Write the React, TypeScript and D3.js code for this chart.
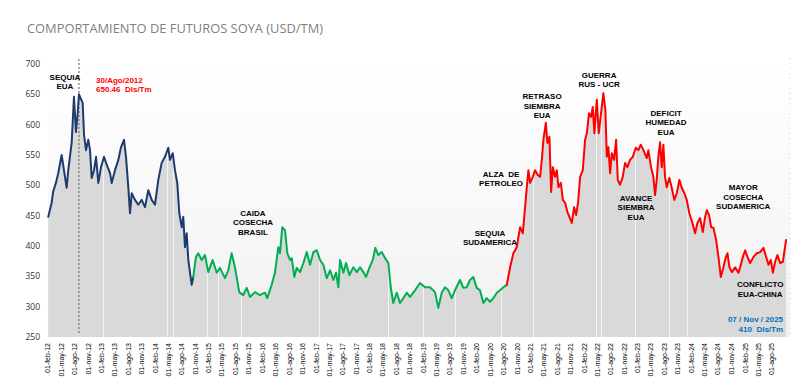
import React from "react";
import * as d3 from "d3";

// ---------- DATA ----------
const TITLE = "COMPORTAMIENTO DE FUTUROS SOYA (USD/TM)";
const MONTHS_ES = ["ene", "feb", "mar", "abr", "may", "jun", "jul", "ago", "sep", "oct", "nov", "dic"];
const Y_TICKS = [250, 300, 350, 400, 450, 500, 550, 600, 650, 700];
const START = "2012-02-01";
const END = "2025-11-07";
const LAST_TICK = "2025-08-01";
const PEAK_YEAR = 2012.661; // 30/Ago/2012

// [decimal year, USD/TM]
const periodBlue: [number, number][] = [
  [2012.089, 448], [2012.152, 471], [2012.182, 490], [2012.232, 504], [2012.275, 520], [2012.339, 550],
  [2012.382, 525], [2012.432, 496], [2012.462, 525], [2012.525, 570], [2012.568, 646], [2012.605, 588],
  [2012.637, 619], [2012.661, 650], [2012.73, 636], [2012.755, 583], [2012.792, 558], [2012.835, 575],
  [2012.867, 558], [2012.898, 512], [2012.941, 525], [2012.979, 547], [2013.021, 504], [2013.072, 530],
  [2013.128, 547], [2013.178, 534], [2013.24, 520], [2013.271, 504], [2013.333, 525], [2013.395, 542],
  [2013.445, 563], [2013.501, 575], [2013.538, 547], [2013.581, 497], [2013.613, 454], [2013.645, 487],
  [2013.706, 476], [2013.768, 468], [2013.831, 476], [2013.893, 464], [2013.954, 492], [2014.018, 476],
  [2014.079, 468], [2014.141, 509], [2014.204, 537], [2014.266, 547], [2014.327, 562], [2014.359, 542],
  [2014.41, 553], [2014.452, 525], [2014.495, 504], [2014.533, 454], [2014.578, 431], [2014.607, 448],
  [2014.639, 398], [2014.671, 421], [2014.701, 377], [2014.764, 336], [2014.794, 349],
];

const periodGreen: [number, number][] = [
  [2014.794, 349], [2014.844, 382], [2014.887, 388], [2014.951, 377], [2015.012, 385], [2015.074, 357],
  [2015.156, 377], [2015.231, 356], [2015.292, 364], [2015.385, 347], [2015.447, 360], [2015.51, 388],
  [2015.572, 365], [2015.652, 324], [2015.727, 319], [2015.79, 331], [2015.852, 316], [2015.945, 324],
  [2016.038, 319], [2016.131, 323], [2016.174, 314], [2016.256, 336], [2016.318, 356], [2016.38, 398],
  [2016.411, 388], [2016.454, 431], [2016.505, 426], [2016.548, 388], [2016.598, 377], [2016.63, 380],
  [2016.678, 349], [2016.723, 364], [2016.785, 357], [2016.846, 372], [2016.91, 390], [2016.971, 369],
  [2017.033, 390], [2017.096, 393], [2017.158, 377], [2017.219, 369], [2017.283, 347], [2017.344, 360],
  [2017.406, 344], [2017.456, 356], [2017.499, 332], [2017.531, 377], [2017.593, 356], [2017.643, 372],
  [2017.705, 352], [2017.779, 365], [2017.843, 357], [2017.904, 365], [2017.966, 357], [2018.016, 349],
  [2018.078, 364], [2018.141, 377], [2018.19, 397], [2018.245, 385], [2018.309, 390], [2018.371, 380],
  [2018.432, 372], [2018.477, 332], [2018.525, 306], [2018.589, 323], [2018.65, 306], [2018.712, 314],
  [2018.775, 323], [2018.837, 316], [2018.93, 327], [2019.023, 339], [2019.117, 332], [2019.21, 332],
  [2019.303, 324], [2019.365, 298], [2019.428, 323], [2019.49, 332], [2019.552, 327], [2019.615, 314],
  [2019.676, 327], [2019.77, 344], [2019.831, 331], [2019.895, 332], [2019.956, 344], [2020.018, 349],
  [2020.082, 331], [2020.143, 327], [2020.205, 306], [2020.268, 314], [2020.33, 308], [2020.391, 314],
  [2020.455, 323], [2020.516, 327], [2020.578, 332], [2020.641, 336],
];

const periodRed: [number, number][] = [
  [2020.641, 336], [2020.703, 365], [2020.764, 388], [2020.827, 398], [2020.889, 431], [2020.94, 421],
  [2020.982, 464], [2021.014, 497], [2021.044, 525], [2021.076, 504], [2021.126, 514], [2021.169, 525],
  [2021.219, 517], [2021.262, 514], [2021.294, 542], [2021.324, 575], [2021.369, 603], [2021.399, 570],
  [2021.436, 580], [2021.468, 489], [2021.499, 530], [2021.542, 514], [2021.574, 525], [2021.604, 497],
  [2021.649, 504], [2021.686, 476], [2021.729, 471], [2021.772, 456], [2021.809, 448], [2021.854, 438],
  [2021.897, 464], [2021.934, 451], [2021.971, 471], [2022.009, 514], [2022.059, 525], [2022.102, 575],
  [2022.134, 586], [2022.176, 619], [2022.214, 613], [2022.245, 629], [2022.275, 586], [2022.32, 641],
  [2022.357, 586], [2022.4, 619], [2022.443, 652], [2022.481, 624], [2022.507, 547], [2022.537, 563],
  [2022.569, 520], [2022.601, 553], [2022.643, 542], [2022.681, 575], [2022.712, 509], [2022.755, 501],
  [2022.805, 514], [2022.848, 537], [2022.891, 530], [2022.941, 542], [2022.992, 547], [2023.048, 562],
  [2023.096, 558], [2023.141, 567], [2023.19, 558], [2023.253, 545], [2023.283, 558], [2023.333, 530],
  [2023.376, 514], [2023.408, 484], [2023.439, 509], [2023.469, 547], [2023.501, 571], [2023.533, 530],
  [2023.563, 567], [2023.594, 514], [2023.626, 497], [2023.674, 512], [2023.719, 496], [2023.768, 476],
  [2023.813, 487], [2023.862, 509], [2023.906, 496], [2023.955, 487], [2024.0, 476], [2024.048, 454],
  [2024.099, 440], [2024.155, 421], [2024.198, 438], [2024.248, 446], [2024.298, 423], [2024.341, 448],
  [2024.373, 459], [2024.416, 451], [2024.453, 431], [2024.496, 430], [2024.546, 410], [2024.589, 382],
  [2024.634, 349], [2024.682, 365], [2024.727, 382], [2024.757, 388], [2024.794, 365], [2024.839, 357],
  [2024.9, 365], [2024.962, 356], [2024.994, 365], [2025.044, 382], [2025.087, 393], [2025.13, 382],
  [2025.18, 372], [2025.242, 382], [2025.305, 388], [2025.367, 390], [2025.428, 397], [2025.479, 382],
  [2025.522, 369], [2025.566, 377], [2025.604, 356], [2025.646, 374], [2025.689, 385], [2025.739, 372],
  [2025.79, 374], [2025.851, 410],
];

// dates with missing data (thin white gaps in the area)
const gapYears = [
  2013.109, 2014.303, 2014.415, 2015.05, 2015.255, 2015.684, 2017.139, 2018.426, 2019.079,
  2019.676, 2020.534, 2021.131, 2022.307, 2022.4, 2023.034, 2023.668, 2024.004,
];

type Note = { lines: string[]; year: number; value: number; color: string; anchor: "start" | "middle" | "end" };
const notes: Note[] = [
  { lines: ["SEQUIA", "EUA"], year: 2012.4, value: 673.7, color: "#000", anchor: "middle" },
  { lines: ["30/Ago/2012", "650.46  Dls/Tm"], year: 2012.979, value: 668.7, color: "#ff0000", anchor: "start" },
  { lines: ["CAIDA", "COSECHA", "BRASIL"], year: 2015.908, value: 449.5, color: "#000", anchor: "middle" },
  { lines: ["ALZA  DE", "PETROLEO"], year: 2020.535, value: 513.8, color: "#000", anchor: "middle" },
  { lines: ["SEQUIA", "SUDAMERICA"], year: 2020.329, value: 416.5, color: "#000", anchor: "middle" },
  { lines: ["RETRASO", "SIEMBRA", "EUA"], year: 2021.299, value: 642.3, color: "#000", anchor: "middle" },
  { lines: ["GUERRA", "RUS - UCR"], year: 2022.363, value: 677, color: "#000", anchor: "middle" },
  { lines: ["DEFICIT", "HUMEDAD", "EUA"], year: 2023.613, value: 614.3, color: "#000", anchor: "middle" },
  { lines: ["AVANCE", "SIEMBRA", "EUA"], year: 2023.053, value: 474.2, color: "#000", anchor: "middle" },
  { lines: ["MAYOR", "COSECHA", "SUDAMERICA"], year: 2025.05, value: 492.3, color: "#000", anchor: "middle" },
  { lines: ["CONFLICTO", "EUA-CHINA"], year: 2025.367, value: 332.4, color: "#000", anchor: "middle" },
  { lines: ["07 / Nov / 2025", "410  Dls/Tm"], year: 2025.795, value: 274.7, color: "#0070c0", anchor: "end" },
];

const SERIES_COLORS = ["#1f3a6e", "#00b050", "#ff0000"];

// ---------- HELPERS ----------
function toDate(y: number): Date {
  const yr = Math.floor(y);
  const s = Date.UTC(yr, 0, 1);
  const e = Date.UTC(yr + 1, 0, 1);
  return new Date(s + (y - yr) * (e - s));
}

export default function App() {
  const W = 800, H = 380;
  const left = 48, right = 786, top = 64, bottom = 337;

  const x = d3.scaleUtc().domain([new Date(START), new Date(END)]).range([left, right]);
  const y = d3.scaleLinear().domain([250, 700]).range([bottom, top]);

  const all = [...periodBlue, ...periodGreen.slice(1), ...periodRed.slice(1)];
  const area = d3.area<[number, number]>()
    .x((d) => x(toDate(d[0])))
    .y0(y(250))
    .y1((d) => y(d[1]));
  const line = d3.line<[number, number]>()
    .x((d) => x(toDate(d[0])))
    .y((d) => y(d[1]))
    .curve(d3.curveLinear);

  const ticks = d3.utcMonth.range(new Date(START), new Date(Date.parse(LAST_TICK) + 86400000), 3);
  const fmt = (d: Date) => `01-${MONTHS_ES[d.getUTCMonth()]}-${String(d.getUTCFullYear()).slice(2)}`;

  const peakX = x(toDate(PEAK_YEAR));

  return (
    <svg width={W} height={H} style={{ position: "absolute", left: 0, top: 0, background: "#fff" }}>
      <defs>
        <linearGradient id="bg" x1="0" y1="0" x2="0" y2="1">
          <stop offset="0" stopColor="#ffffff" />
          <stop offset="1" stopColor="#f2f2f2" />
        </linearGradient>
        <clipPath id="areaClip">
          <path d={area(all) || ""} />
        </clipPath>
      </defs>
      <rect x={left} y={58} width={790 - left} height={bottom - 58} fill="url(#bg)" />
      <line x1={790} x2={790} y1={58} y2={bottom} stroke="#d0d0d0" strokeDasharray="1,4" />

      <text x={27} y={33} fontFamily="'Open Sans', sans-serif" fontSize={13} fill="#7f7f7f"
        textLength={296} lengthAdjust="spacingAndGlyphs">{TITLE}</text>

      {Y_TICKS.map((t) => (
        <text key={t} x={40} y={y(t)} dy="0.35em" textAnchor="end" fontFamily="'Open Sans', sans-serif"
          fontSize={8.5} fill="#333">{t}</text>
      ))}

      <path d={area(all) || ""} fill="#d9d9d9" />
      <g clipPath="url(#areaClip)">
        {gapYears.map((g) => {
          const gx = Math.round(x(toDate(g))) + 0.5;
          return <line key={g} x1={gx} x2={gx} y1={top - 10} y2={bottom} stroke="#f4f4f4" strokeWidth={1} />;
        })}
      </g>

      <line x1={peakX} x2={peakX} y1={59} y2={bottom - 2} stroke="#555" strokeWidth={1} strokeDasharray="2,2" />

      {[periodBlue, periodGreen, periodRed].map((s, i) => (
        <path key={i} d={line(s) || ""} fill="none" stroke={SERIES_COLORS[i]} strokeWidth={2}
          strokeLinejoin="round" strokeLinecap="round" />
      ))}

      {ticks.map((t) => (
        <text key={t.getTime()} transform={`translate(${x(t)},343) rotate(-90)`} dy="0.35em" textAnchor="end"
          fontFamily="'Liberation Sans', Arial, sans-serif" fontSize={7} fill="#000">{fmt(t)}</text>
      ))}

      {notes.map((n, i) => (
        <text key={i} x={x(toDate(n.year))} y={y(n.value)} textAnchor={n.anchor}
          fontFamily="'Liberation Sans', Arial, sans-serif" fontSize={8} fontWeight="bold" fill={n.color}>
          {n.lines.map((l, j) => (
            <tspan key={j} x={x(toDate(n.year))} dy={j === 0 ? 0 : 9.5} style={{ whiteSpace: "pre" }}>{l}</tspan>
          ))}
        </text>
      ))}
    </svg>
  );
}
